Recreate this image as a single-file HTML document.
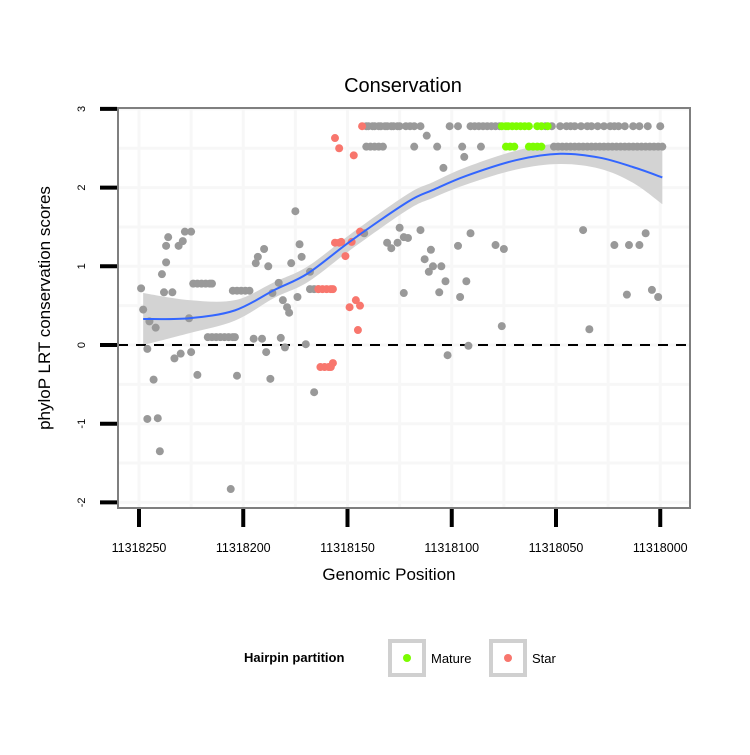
<!DOCTYPE html>
<html><head><meta charset="utf-8"><style>
body{margin:0;background:#fff;width:750px;height:750px;overflow:hidden}
svg text{font-family:"Liberation Sans",sans-serif}
</style></head><body>
<svg id="chart" width="750" height="750" xmlns="http://www.w3.org/2000/svg"></svg>
<script>
const BASE = 11318000;
const grayPos = [249,248,246,245,242,243,246,241,240,238,234,239,237,237,236,231,229,228,225,233,230,226,225,224,222,220,218,216,215,217,215,213,211,209,207,205,204,222,206,205,203,201,199,197,194,193,190,188,195,191,189,203,187,183,186,181,179,178,182,180,177,173,172,175,174,170,168,166,168,166,164,142,125,123,131,129,126,
141,140,138,137,135,134,132,131,129,128,126,125,122,120,118,115,101,97,91,89,87,85,83,81,79,77,55,52,48,45,43,41,38,35,33,30,27,24,22,20,17,13,10,6,0,
141,139,137,135,133,118,107,95,86,
51,49,47,45,43,41,39,37,35,33,31,29,27,25,23,21,19,17,15,13,11,9,7,5,3,1,-1,
112,94,104,115,123,121,110,113,109,111,105,103,97,93,96,106,91,79,75,37,22,15,10,7,16,4,1,76,34,102,92];
const grayVal = [.72,.45,-.05,.30,.22,-.44,-.94,-.93,-1.35,.67,.67,.90,1.05,1.26,1.37,1.26,1.32,1.44,1.44,-.17,-.11,.34,-.09,.78,.78,.78,.78,.78,.78,.10,.10,.10,.10,.10,.10,.10,.10,-.38,-1.83,.69,.69,.69,.69,.69,1.04,1.12,1.22,1.0,.08,.08,-.09,-.39,-.43,.79,.66,.57,.48,.41,.09,-.03,1.04,1.28,1.12,1.70,.61,.01,.93,-.60,.71,.71,.71,1.42,1.49,.66,1.30,1.23,1.30,
2.78,2.78,2.78,2.78,2.78,2.78,2.78,2.78,2.78,2.78,2.78,2.78,2.78,2.78,2.78,2.78,2.78,2.78,2.78,2.78,2.78,2.78,2.78,2.78,2.78,2.78,2.78,2.78,2.78,2.78,2.78,2.78,2.78,2.78,2.78,2.78,2.78,2.78,2.78,2.78,2.78,2.78,2.78,2.78,2.78,
2.52,2.52,2.52,2.52,2.52,2.52,2.52,2.52,2.52,
2.52,2.52,2.52,2.52,2.52,2.52,2.52,2.52,2.52,2.52,2.52,2.52,2.52,2.52,2.52,2.52,2.52,2.52,2.52,2.52,2.52,2.52,2.52,2.52,2.52,2.52,2.52,
2.66,2.39,2.25,1.46,1.37,1.36,1.21,1.09,1.0,.93,1.0,.81,1.26,.81,.61,.67,1.42,1.27,1.22,1.46,1.27,1.27,1.27,1.42,.64,.70,.61,.24,.20,-.13,-.01];
const starPos = [156,153,148,151,144,154,149,146,144,145,163,161,159,158,157,164,162,160,158,157,156,154,147,143];
const starVal = [1.30,1.31,1.31,1.13,1.44,1.30,.48,.57,.50,.19,-.28,-.28,-.28,-.28,-.23,.71,.71,.71,.71,.71,2.63,2.50,2.41,2.78];
const maturePos = [76,74,73,71,69,67,65,63,59,57,54,74,72,70,63,61,59,57];
const matureVal = [2.78,2.78,2.78,2.78,2.78,2.78,2.78,2.78,2.78,2.78,2.78,2.52,2.52,2.52,2.52,2.52,2.52,2.52];
const fitPos = [248,226,204,185,169,148,121,109,93,69,48,29,13,-1];
const fitVal = [.33,.34,.44,.70,.91,1.33,1.82,1.97,2.15,2.35,2.43,2.38,2.26,2.13];
const fitHi = [.66,.57,.57,.80,1.0,1.42,1.92,2.07,2.26,2.47,2.56,2.53,2.48,2.50];
const fitLo = [.0,.15,.31,.60,.80,1.22,1.72,1.87,2.04,2.23,2.30,2.24,2.06,1.79];
const xTicks = [11318250,11318200,11318150,11318100,11318050,11318000];
const yTicks = [3,2,1,0,-1,-2];

const svg = document.getElementById('chart');
const NS = 'http://www.w3.org/2000/svg';
const X = p => 139 + (11318250 - p) * 2.085;
const Y = v => 345 - v * 78.7;
function mk(tag, attrs, parent){const e=document.createElementNS(NS,tag);for(const k in attrs)e.setAttribute(k,attrs[k]);(parent||svg).appendChild(e);return e;}
function smooth(P, start){
  let d=(start?'M':'L')+P[0][0]+','+P[0][1];
  for(let i=0;i<P.length-1;i++){
    const p0=P[Math.max(0,i-1)],p1=P[i],p2=P[i+1],p3=P[Math.min(P.length-1,i+2)];
    const c1=[p1[0]+(p2[0]-p0[0])/6,p1[1]+(p2[1]-p0[1])/6];
    const c2=[p2[0]-(p3[0]-p1[0])/6,p2[1]-(p3[1]-p1[1])/6];
    d+='C'+c1[0]+','+c1[1]+' '+c2[0]+','+c2[1]+' '+p2[0]+','+p2[1];
  }
  return d;
}

let e;
e = mk('rect',{x:118,y:108,width:572,height:400,fill:'#fff'});


const grid = mk('g',{stroke:'#f7f7f7','stroke-width':3});


for(let v=-2; v<=3; v+=0.5){ mk('line',{x1:118,x2:690,y1:Y(v),y2:Y(v)},grid); }
for(let i=0;i<xTicks.length;i++){ const p=xTicks[i]; mk('line',{x1:X(p),x2:X(p),y1:108,y2:508},grid); if(i<xTicks.length-1) mk('line',{x1:X(p-25),x2:X(p-25),y1:108,y2:508},grid); }

const hiPts = fitPos.map((p,i)=>[X(BASE+p),Y(fitHi[i])]);
const loPts = fitPos.map((p,i)=>[X(BASE+p),Y(fitLo[i])]).reverse();
e = mk('path',{d:smooth(hiPts,true)+smooth(loPts,false)+'Z',fill:'#d3d3d3'});



e = mk('line',{x1:118,x2:690,y1:Y(0),y2:Y(0),stroke:'#000','stroke-width':2,'stroke-dasharray':'10,8'});



function pts(pos,val,col,name){
  const g=mk('g',{fill:col});
  
  
  pos.forEach((p,i)=>{const c=mk('circle',{cx:X(BASE+p),cy:Y(val[i]),r:4},g);
    
    });
}
pts(grayPos,grayVal,'#999999','other');
pts(starPos,starVal,'#f8766d','star');
pts(maturePos,matureVal,'#7cfc00','mature');

const fitPts = fitPos.map((p,i)=>[X(BASE+p),Y(fitVal[i])]);
e = mk('path',{d:smooth(fitPts,true),fill:'none',stroke:'#3366ff','stroke-width':2});



e = mk('rect',{x:118,y:108,width:572,height:400,fill:'none',stroke:'#7f7f7f','stroke-width':2});



yTicks.forEach(v=>{
  const t=mk('line',{x1:100,x2:117,y1:Y(v),y2:Y(v),stroke:'#000','stroke-width':4});
  
  
  const l=mk('text',{x:0,y:0,'font-size':11,'text-anchor':'middle',transform:`translate(85,${Y(v)}) rotate(-90)`});
  l.textContent=v;
  
  
});
xTicks.forEach(p=>{
  const t=mk('line',{x1:X(p),x2:X(p),y1:509,y2:527,stroke:'#000','stroke-width':4});
  
  
  const l=mk('text',{x:X(p),y:552,'font-size':12.5,'text-anchor':'middle'});
  l.textContent=p;
  
  
});
</script>
<svg width="750" height="750" style="position:absolute;left:0;top:0">
<text x="403" y="92" font-size="20" text-anchor="middle" font-family="Liberation Sans">Conservation</text>
<text x="389" y="580" font-size="17" text-anchor="middle" font-family="Liberation Sans">Genomic Position</text>
<text transform="translate(50,308) rotate(-90)" font-size="17" text-anchor="middle" font-family="Liberation Sans">phyloP LRT conservation scores</text>
<g font-family="Liberation Sans">
<text x="244" y="662" font-size="13" font-weight="bold">Hairpin partition</text>
<g>
<rect x="390" y="641" width="34" height="34" fill="#fff" stroke="#d0d0d0" stroke-width="4"/>
<circle cx="407" cy="658" r="4" fill="#7cfc00"/>
<text x="431" y="663" font-size="13">Mature</text></g>
<g>
<rect x="491" y="641" width="34" height="34" fill="#fff" stroke="#d0d0d0" stroke-width="4"/>
<circle cx="508" cy="658" r="4" fill="#f8766d"/>
<text x="532" y="663" font-size="13">Star</text></g>
</g>
</svg>
</body></html>
